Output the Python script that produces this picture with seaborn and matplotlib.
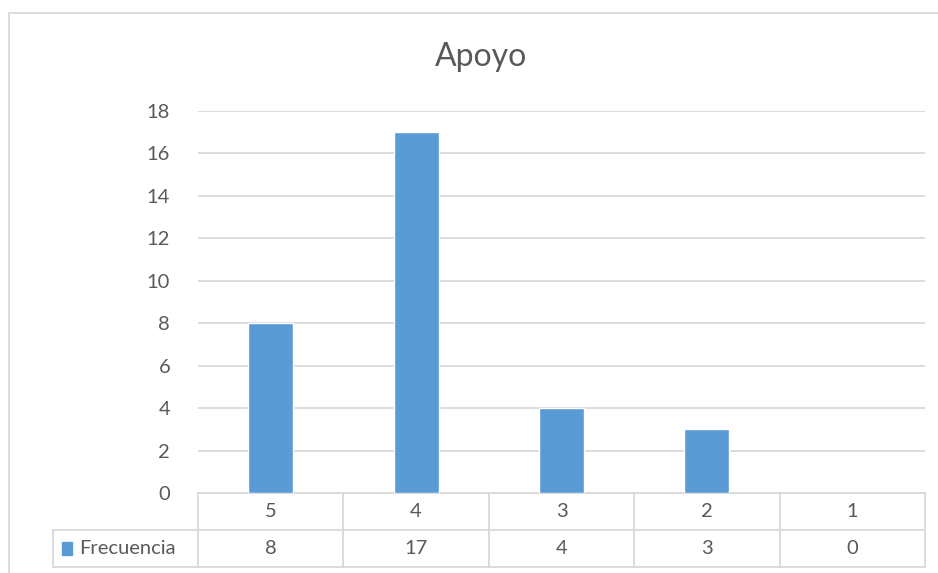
import matplotlib
matplotlib.use("Agg")
import matplotlib.pyplot as plt
import matplotlib.transforms as mtransforms
from matplotlib.patches import Rectangle
import seaborn as sns
import pandas as pd

categories = ["5", "4", "3", "2", "1"]
frecuencia = [8, 17, 4, 3, 0]
series_name = "Frecuencia"
title = "Apoyo"
yticks = [0, 2, 4, 6, 8, 10, 12, 14, 16, 18]

BAR = "#5B9BD5"
TXT = "#595959"
GRID = "#D9D9D9"

sns.set_theme(style="white")
plt.rcParams["font.family"] = ["Lato", "DejaVu Sans"]

W, H = 938, 573
fig = plt.figure(figsize=(W / 100, H / 100), dpi=100)
fig.patch.set_facecolor("white")

# chart area border
fig.add_artist(Rectangle((9 / W, -0.01), 1.05, 1 - 13 / H + 0.01,
                         transform=fig.transFigure, fill=False,
                         edgecolor=GRID, lw=1.3))

L, R, T, B = 198, 925, 111, 493
ax = fig.add_axes([L / W, 1 - B / H, (R - L) / W, (B - T) / H])

df = pd.DataFrame({"cat": categories, "val": frecuencia})
sns.barplot(data=df, x="cat", y="val", order=categories, color=BAR,
            width=0.31, saturation=1, ax=ax, zorder=3)

ax.set_xlim(-0.5, len(categories) - 0.5)
ax.set_ylim(0, 18)
ax.set_yticks(yticks)
ax.set_yticklabels([str(v) for v in yticks], color=TXT, fontsize=14.5)
ax.tick_params(axis="y", length=0, pad=20)
ax.set_xticks([])
ax.set_xlabel("")
ax.set_ylabel("")
for s in ax.spines.values():
    s.set_visible(False)
ax.grid(axis="y", color=GRID, lw=1.3, zorder=0)
ax.set_axisbelow(True)

fig.text(481 / W, 1 - 57 / H, title, ha="center", va="center",
         fontsize=23, color=TXT)

# data table below the axes (x in data coords, y in axes fraction)
trans = mtransforms.blended_transform_factory(ax.transData, ax.transAxes)
rh = 37 / (B - T)
n = len(categories)
kw = dict(transform=trans, color=GRID, lw=1.3, clip_on=False)
ax.plot([-0.5, n - 0.5], [0, 0], **kw)
ax.plot([-1.5, n - 0.5], [-rh, -rh], **kw)
ax.plot([-1.5, n - 0.5], [-2 * rh, -2 * rh], **kw)
for i in range(n + 1):
    ax.plot([i - 0.5, i - 0.5], [0, -2 * rh], **kw)
ax.plot([-1.5, -1.5], [-rh, -2 * rh], **kw)

for i, (c, v) in enumerate(zip(categories, frecuencia)):
    ax.text(i, -0.5 * rh, c, transform=trans, ha="center", va="center",
            fontsize=14.5, color=TXT)
    ax.text(i, -1.5 * rh, str(v), transform=trans, ha="center", va="center",
            fontsize=14.5, color=TXT)

# legend key in table
ax.add_patch(Rectangle((-1.5 + 9 / 145.4, -1.5 * rh - 0.018), 0.07, 0.036,
                       transform=trans, color=BAR, clip_on=False))
ax.text(-1.5 + 27 / 145.4, -1.5 * rh, series_name, transform=trans,
        ha="left", va="center", fontsize=14.5, color=TXT)

fig.savefig("out.png", dpi=100)
